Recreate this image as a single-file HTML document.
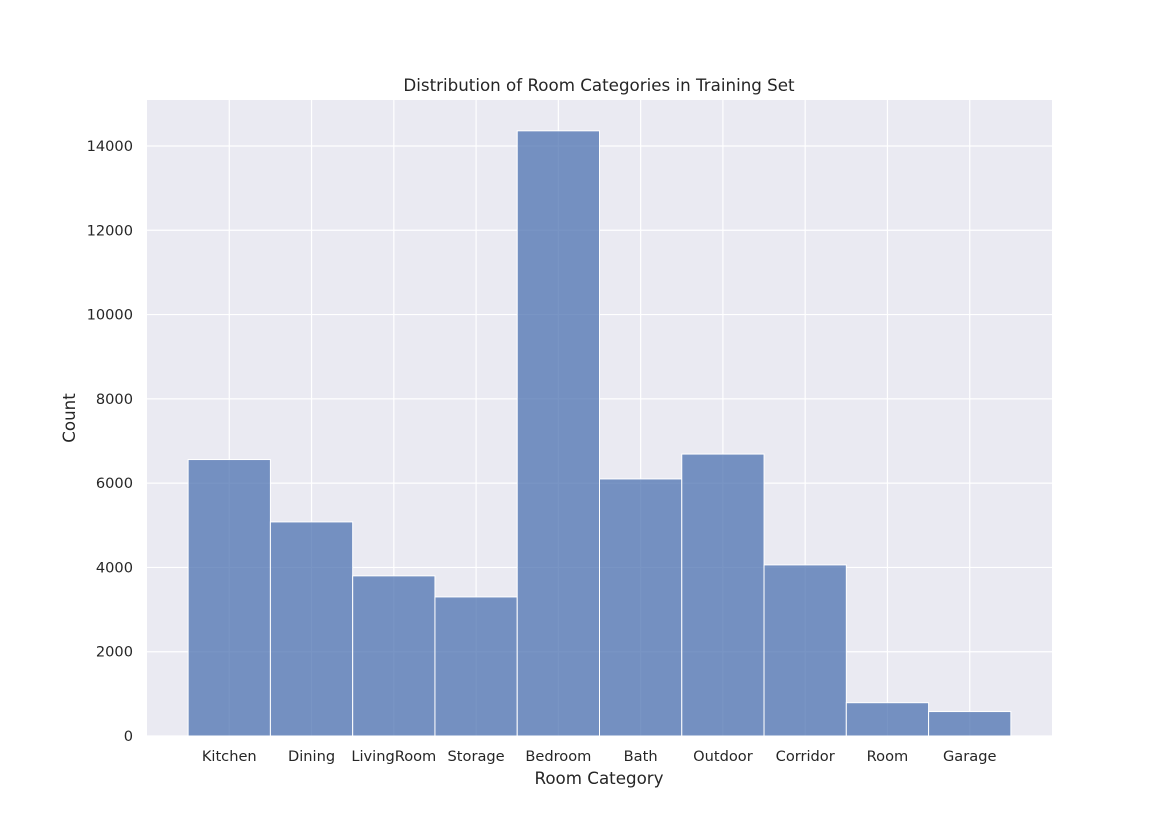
<!DOCTYPE html>
<html><head><meta charset="utf-8"><style>
body{margin:0;background:#fff;font-family:"DejaVu Sans","Liberation Sans",sans-serif;}
</style></head><body>
<svg id="chart" width="1170" height="827" font-family="DejaVu Sans, Liberation Sans, sans-serif" xmlns="http://www.w3.org/2000/svg">
<rect x="0" y="0" width="1170" height="827" fill="#fff"/>
<rect x="147" y="100" width="905" height="636" fill="#eaeaf2"/>
<g id="grid"></g><g id="bars"></g><g id="ticks"></g>
<text x="599" y="91" text-anchor="middle" font-size="16.7" fill="#262626">Distribution of Room Categories in Training Set</text>
<text x="599" y="784" text-anchor="middle" font-size="16.7" fill="#262626">Room Category</text>
<text transform="translate(75,418) rotate(-90)" text-anchor="middle" font-size="16.7" fill="#262626">Count</text>
</svg>
<script>
const categories=["Kitchen","Dining","LivingRoom","Storage","Bedroom","Bath","Outdoor","Corridor","Room","Garage"];
const counts=[6560,5080,3800,3300,14360,6100,6690,4060,790,580];
const yTicks=[0,2000,4000,6000,8000,10000,12000,14000];
const NS="http://www.w3.org/2000/svg";
const L=147,R=1052,T=100,B=736;
const x=i=>L+(i+1)*(R-L)/11;
const y=v=>B-v*(B-146)/14000;
const g=document.getElementById('grid'),b=document.getElementById('bars'),t=document.getElementById('ticks');
function mk(tag,a,p){const e=document.createElementNS(NS,tag);for(const k in a)e.setAttribute(k,a[k]);p.appendChild(e);return e;}
yTicks.forEach(v=>{
 const l=mk('line',{x1:L,x2:R,y1:y(v),y2:y(v),stroke:'#fff','stroke-width':1.2},g);
 
 
 const tx=mk('text',{x:133,y:y(v)+5,'text-anchor':'end','font-size':14.6,fill:'#262626'},t);
 tx.textContent=v;
 
 
});
categories.forEach((c,i)=>{
 const l=mk('line',{x1:x(i),x2:x(i),y1:T,y2:B,stroke:'#fff','stroke-width':1.2},g);
 
 
 const w=(R-L)/11;
 const r=mk('rect',{x:x(i)-w/2,y:y(counts[i]),width:w,height:B-y(counts[i]),fill:'#4c72b0','fill-opacity':0.75,stroke:'#fff','stroke-width':1},b);
 
 
 const tx=mk('text',{x:x(i),y:761,'text-anchor':'middle','font-size':14.6,fill:'#262626'},t);
 tx.textContent=c;
 
 
});
</script>
</body></html>
